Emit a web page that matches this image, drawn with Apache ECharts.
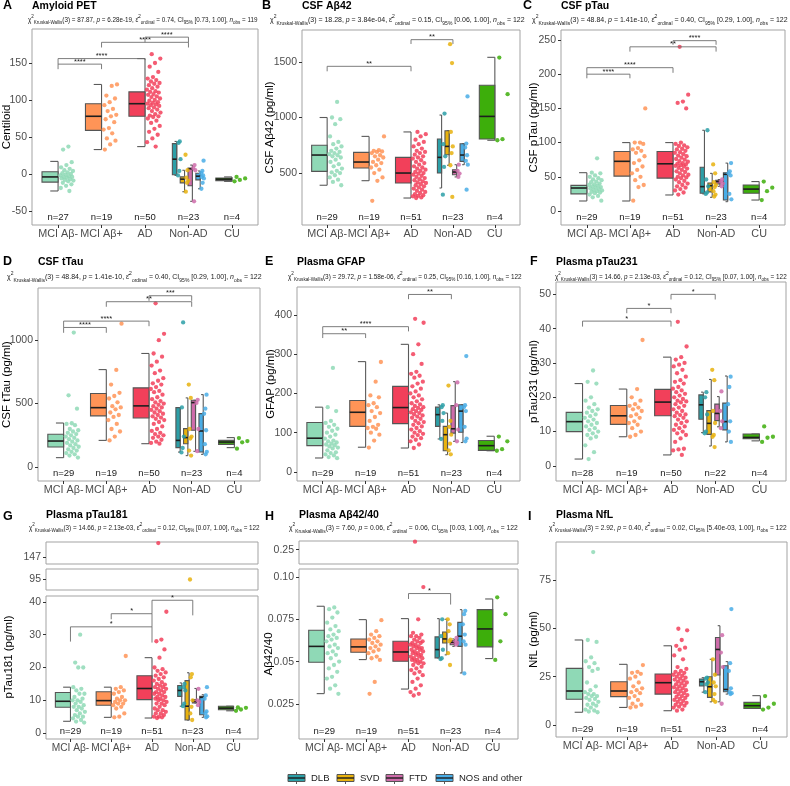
<!DOCTYPE html>
<html><head><meta charset="utf-8">
<script src="https://cdn.jsdelivr.net/npm/echarts@6.0.0/dist/echarts.min.js"></script>
<style>html,body{margin:0;padding:0;background:#fff}#chart{width:790px;height:786px}</style>
</head><body><div id="chart"></div>
<script>
// ---------------- DATA ----------------
const categories = ['MCI Aβ-', 'MCI Aβ+', 'AD', 'Non-AD', 'CU'];
const subtypes = ['DLB', 'SVD', 'FTD', 'NOS and other'];
// group order in every array: MCI Aβ-, MCI Aβ+, AD, DLB, SVD, FTD, NOS and other, CU
const titles = ['Amyloid PET', 'CSF Aβ42', 'CSF pTau', 'CSF tTau', 'Plasma GFAP', 'Plasma pTau231', 'Plasma pTau181', 'Plasma Aβ42/40', 'Plasma NfL'];
const yTitles = ['Centiloid', 'CSF Aβ42 (pg/ml)', 'CSF pTau (pg/ml)', 'CSF tTau (pg/ml)', 'GFAP (pg/ml)', 'pTau231 (pg/ml)', 'pTau181 (pg/ml)', 'Aβ42/40', 'NfL (pg/ml)'];
const letters = ['A', 'B', 'C', 'D', 'E', 'F', 'G', 'H', 'I'];
const statChi = ['87.87', '18.28', '48.84', '48.84', '29.72', '14.66', '14.66', '7.60', '2.92'];
const statP = ['6.28e-19', '3.84e-04', '1.41e-10', '1.41e-10', '1.58e-06', '2.13e-03', '2.13e-03', '0.06', '0.40'];
const statEps = ['0.74', '0.15', '0.40', '0.40', '0.25', '0.12', '0.12', '0.06', '0.02'];
const statCI = ['[0.73, 1.00]', '[0.06, 1.00]', '[0.29, 1.00]', '[0.29, 1.00]', '[0.16, 1.00]', '[0.07, 1.00]', '[0.07, 1.00]', '[0.03, 1.00]', '[5.40e-03, 1.00]'];
const statNobs = [119, 122, 122, 122, 122, 122, 122, 122, 122];

// A Amyloid PET
const petPoints = [
  [37,33,16,12,9,7,5,4,2,1,0,-1,-2,-3,-4,-4,-5,-6,-7,-8,-9,-10,-12,-14,-16,-19,-23],
  [121,119,106,102,97,93,88,85,80,78,74,70,62,60,55,48,45,40,33],
  [162,156,150,145,138,131,129,127,125,123,122,120,118,116,114,112,111,110,108,107,105,104,102,100,99,97,96,95,94,93,92,90,89,87,85,83,81,79,78,77,75,72,69,65,61,57,53,48,43,37],
  [44,42,20,4,-2],
  [26,5,-5,-9,-12,-24],
  [12,8,5,-37],
  [18,4,1,-2,-4,-6,-12,-20],
  [-4,-6,-8,-10]
];
const petBoxes = [[-23,-11,-4,3,17],[33,59,78,95,121],[37,78,95,111,156],[-2,-1,20,41,44],[-24,-12,-7,-4,5],[-37,-16,7,8,12],[-20,-8,-3,1,4],[-10,-9,-7,-5.5,-4]];
const petN = [27,19,50,23,4];
const petTicks = [-50,0,50,100,150];
const petBrackets = [[1,2,148.5,141.7,141.7],[1,3,156,148.5,154],[2,4,178,171,171],[3,4,185,178,178]];
const petStars = ['****','****','****','****'];

// B CSF Ab42
const ab42Points = [
  [1140,1000,985,940,830,780,760,740,720,700,690,680,670,660,650,640,620,600,580,560,540,520,505,500,480,460,440,420,390],
  [830,705,700,695,690,680,660,650,640,620,600,590,570,550,530,500,460,430,250],
  [870,850,830,800,780,760,740,720,700,690,680,665,650,640,630,615,600,590,575,560,550,540,530,520,510,500,495,485,475,465,455,445,435,425,415,410,400,390,380,370,360,350,340,330,320,310,300,295,290,280,275],
  [1035,760,650,555,305],
  [1660,1490,870,740,680,570,285],
  [575,520,495,465],
  [1190,765,730,660,610,575,350],
  [1540,1210,805,795]
];
const ab42Boxes = [[390,515,662,750,1000],[431,545,599,686,830],[275,410,500,641,870],[365,500,641,806,1022],[570,665,740,881,881],[465,485,509,530,575],[575,605,662,764,765],[795,806,1010,1290,1542]];
const ab42N = [29,19,51,23,4];
const ab42Ticks = [500,1000,1500];
const ab42Brackets = [[1,3,1461,1416,1416],[3,4,1701,1662,1662]];
const ab42Stars = ['**','**'];

// C CSF pTau
const ptauPoints = [
  [77,56,55,52,50,48,46,45,43,42,40,39,38,37,36,35,34,33,32,31,30,29,28,27,26,24,22,20,15],
  [150,100,100,98,92,90,88,85,80,74,70,65,60,55,50,45,38,35,15],
  [240,170,160,158,150,100,98,96,95,93,91,90,88,86,85,83,81,80,78,76,75,73,72,70,69,68,67,66,65,63,62,60,58,57,55,53,52,50,49,48,46,44,42,40,38,36,34,32,30,27,24],
  [118,46,36,27,25],
  [68,55,42,38,35,29,24,21],
  [46,43,40,36],
  [70,58,55,52,25,17],
  [43,34,29,16]
];
const ptauBoxes = [[14.6,25,33.6,37.5,56],[14.6,51,72.6,87,100],[23.4,48,69,87,100],[25,26,35.6,64,118],[20,28,37,41,55],[36,39.5,43,45,46],[13.6,16,53.6,56,70],[16,26,32,38,43]];
const ptauN = [29,19,51,23,4];
const ptauTicks = [0,50,100,150,200,250];
const ptauBrackets = [[1,2,200,194,194],[1,3,209.5,200,202],[2,4,240,233,233],[3,4,249,243,243]];
const ptauStars = ['****','****','**','****'];

// D CSF tTau
const ttauPoints = [
  [1060,565,460,345,340,330,300,290,280,270,260,250,240,230,220,210,200,190,180,170,160,150,140,130,120,110,100,90,75],
  [1130,765,650,585,560,540,510,480,470,455,430,410,395,370,340,300,280,240,210],
  [1290,1050,1000,895,870,830,800,760,740,700,680,660,650,630,615,600,590,570,550,535,520,510,500,490,480,470,460,450,440,430,420,410,400,390,380,370,355,340,320,300,285,270,260,250,240,230,215,200,190,184],
  [1140,470,240,150,115],
  [650,545,300,240,225,130,90],
  [530,505,300,125],
  [570,460,420,290,180,120,100],
  [228,205,195,145]
];
const ttauBoxes = [[74,158,205,258,347],[210,403,468,579,768],[184,387,482,624,895],[118,153,210,468,468],[90,184,232,303,545],[124,290,508,526,526],[100,118,284,421,571],[153,179,197,210,232]];
const ttauN = [29,19,50,23,4];
const ttauTicks = [0,500,1000];
const ttauBrackets = [[1,2,1100,1058,1058],[1,3,1150,1100,1110],[2,4,1303,1263,1263],[3,4,1350,1310,1310]];
const ttauStars = ['****','****','**','***'];

// E Plasma GFAP
const gfapPoints = [
  [265,165,155,130,125,120,115,110,105,100,95,90,85,80,78,75,72,70,68,65,62,60,55,50,48,45,42,38,35],
  [280,230,195,190,175,170,165,155,150,140,130,120,115,112,110,100,95,80,62],
  [390,380,325,300,275,255,250,245,240,230,225,218,212,205,200,195,190,185,180,175,172,168,165,163,160,158,155,152,150,147,144,141,138,135,130,127,124,120,116,112,108,104,100,97,94,90,86,82,78,70,61],
  [170,165,150,130,84],
  [220,130,115,95,72,55,45],
  [228,170,108,78],
  [295,170,165,155,115,85,78],
  [90,78,58,54]
];
const gfapBoxes = [[35.6,67,86,126,165],[63,116,152,182,281],[61,123,164,218,325],[84,116,146,165,171],[44,54,95,116,150],[78,99,110,169,230],[75,101,155,171,171],[54,55,67,80,91]];
const gfapN = [29,19,51,23,4];
const gfapTicks = [0,100,200,300,400];
const gfapBrackets = [[1,2,352,341,341],[1,3,370,352,358],[3,4,452,440,440]];
const gfapStars = ['**','****','**'];

// F Plasma pTau231
const p231Points = [
  [27.8,24.5,24,20,19,18,17,16.5,16,15.5,15,14.5,14,13.5,13,12.5,12,11.5,11,10.5,10,9.5,9,8.5,8,6,4,2],
  [36.7,22.4,20,19,18,17.5,17,16.5,16,15,14.5,14,13,12.5,12,11,10,9,8.5],
  [42,34.8,31.7,31,30,29.5,29,28,27,26,25,24.5,24,23,22.5,22,21.5,21,20.5,20,19.5,19,18.8,18.5,18,17.5,17,16.5,16,15.5,15,14.8,14.5,14,13.5,13,12.5,12,11.5,11,10.5,10,9.5,9,8,7,5,4.8,4.5,3.2],
  [21.5,20,15,10,9.5],
  [28,25,16,12.5,9,8.5,5.5],
  [21.7,16,13,11],
  [26,23,18,13,10,7],
  [11.5,8.5,8.2,7]
];
const p231Boxes = [[2,10,12.9,15.6,24],[8.5,12.1,14.6,17.6,22.4],[3.2,14.6,18.6,22.3,31.7],[9.7,13.6,17.8,20.7,21.5],[5.8,9.2,12.4,16.1,25.2],[11.4,13.2,15.3,18,20.2],[7,10.5,12.9,18.3,26.2],[7.3,7.9,8.3,9.3,9.3]];
const p231N = [28,19,50,22,4];
const p231Ticks = [0,10,20,30,40,50];
const p231Brackets = [[1,3,42.2,40.6,40.6],[2,3,45.9,44.5,44.5],[3,4,50,48.5,48.5]];
const p231Stars = ['*','*','*'];

// G Plasma pTau181
const p181Points = [
  [30,21.5,20,20,14,13.5,13,12,12,11,10.5,10,10,9.5,9,8.5,8,8,7.5,7,6.5,6,5.5,5,5,4.5,4,3.5,3.2],
  [23.5,14,13.5,13,12.5,12,11,10.5,10,10,9.5,9,9,8.5,8,7.5,6,5,4.8],
  [151,37,28.5,28,25.5,23,20,19.5,19,18.5,18,17.5,17,16.5,16,15.5,15,14.8,14.5,14,14,13.5,13.5,13,12.5,12.5,12,12,11.5,11,11,10.5,10.5,10,10,9.5,9,9,8.5,8,7.5,7,7,6.5,6,6,5.5,5,5,4.8,4.6],
  [15,14,13,9,8.2],
  [95,18,17,10,8,6,4],
  [13.5,10,9.5,8.5],
  [14,11.5,10.5,6.6,6,5.1,4.8],
  [7.8,7.7,7.2,6.8]
];
const p181Boxes = [[3.6,7.9,9.7,12.4,14],[4.8,8.5,9.9,12.6,14],[4.6,10.2,13.6,17.5,23],[8.2,11.2,13,14.5,15.3],[4,4,8.2,16,18.4],[9.2,9.2,9.7,10.2,13.6],[4.8,5.6,10.9,11.2,11.7],[6.8,7.1,7.6,8.2,8.2]];
const p181N = [29,19,51,23,4];
const p181Ticks = [0,10,20,30,40];
const p181BreakTicks = [[147],[95]];
const p181Brackets = [[1,3,32.4,27.9,27.6],[2,3,36.4,34.7,32.4],[3,4,40.5,36.4,35.9]];
const p181Stars = ['*','*','*'];

// H Plasma Ab42/40
const ratioPoints = [
  [0.082,0.081,0.079,0.076,0.073,0.071,0.069,0.068,0.066,0.065,0.064,0.063,0.062,0.060,0.059,0.058,0.056,0.055,0.054,0.052,0.050,0.048,0.046,0.044,0.041,0.040,0.036,0.034,0.031],
  [0.0745,0.068,0.066,0.065,0.064,0.063,0.062,0.061,0.060,0.059,0.058,0.057,0.056,0.055,0.053,0.052,0.051,0.038,0.031],
  [0.2555,0.094,0.075,0.067,0.066,0.065,0.065,0.064,0.063,0.062,0.062,0.061,0.061,0.060,0.060,0.059,0.059,0.058,0.058,0.057,0.057,0.056,0.056,0.055,0.055,0.054,0.054,0.053,0.053,0.052,0.052,0.051,0.051,0.050,0.050,0.049,0.049,0.048,0.047,0.046,0.045,0.044,0.043,0.042,0.040,0.038,0.036,0.034,0.032,0.031,0.030],
  [0.075,0.065,0.057,0.052,0.0515],
  [0.075,0.072,0.068,0.063,0.062,0.055,0.048],
  [0.064,0.062,0.061,0.060],
  [0.080,0.078,0.072,0.066,0.062,0.060,0.043],
  [0.088,0.078,0.062,0.051]
];
const ratioBoxes = [[0.0311,0.0496,0.059,0.0685,0.0827],[0.0512,0.0555,0.0587,0.0634,0.0748],[0.0338,0.0502,0.0557,0.062,0.0754],[0.0522,0.0522,0.0571,0.0646,0.0754],[0.054,0.061,0.0634,0.0675,0.075],[0.059,0.06,0.0614,0.0624,0.0634],[0.0433,0.059,0.065,0.0732,0.0807],[0.0518,0.0587,0.0693,0.0807,0.087]];
const ratioN = [29,19,51,23,4];
const ratioTicks = [0.025,0.05,0.075,0.10];
const ratioTickLabels = ['0.025','0.05','0.075','0.10'];
const ratioBreakTicks = [[0.25]];
const ratioBrackets = [[3,4,0.0902,0.087,0.0837]];
const ratioStars = ['*'];

// I Plasma NfL
const nflPoints = [
  [89.5,44,43,35,33,32,30,29,28,22,20,18,17,16,16,15,15,14,13.5,13,12,11,10.5,10,9,8,7.5,7,6.6],
  [31,27.5,27,26.5,25,24,22,20,19,18,17,16.5,15,14,13,11,10.5,9.5,9],
  [49.8,49,44,41,40,39,36,34,30,29,28,27.5,27,26.5,26,25.5,25,24.5,24,23.5,23,22.5,22,21.5,21,20.5,20,19.5,19,18.5,18,17.5,17,16.5,16,15.5,15,14.5,14,13.5,13,12.5,12,11.5,11,10.5,10,9.5,9,8,7.4],
  [24.5,24,22,21,17],
  [34,26,22,20,16,13,12],
  [46.5,37.5,30,11],
  [60,32,28,19,17,16.5,16],
  [15,11,9,8]
];
const nflBoxes = [[6.6,13.3,17.6,29.3,44],[9.1,14.7,17.6,22.4,31.4],[7.4,16,21.9,26.4,41],[17,20.2,22.4,23.8,24.5],[12,14.3,19.8,25,34],[12,25.9,39.1,45.3,51.4],[16,17.2,18.4,30.7,32.8],[8.6,8.6,10,11.7,15.2]];
const nflN = [29,19,51,23,4];
const nflTicks = [0,25,50,75];
const nflBrackets = [];
const nflStars = [];

// ---------------- LAYOUT / STYLE ----------------
const FONT = '"Liberation Sans", Arial, Helvetica, sans-serif';
const COLORS = ['#8FD9B6', '#FF9457', '#F2405A', '#2C9FA7', '#E8B20E', '#CE6CAA', '#49ADE6', '#3DAE0B'];
const SUB_OFF = [-0.27, -0.09, 0.09, 0.27];
const MAIN_BOX_W = 0.37, SUB_BOX_W = 0.1, MAIN_CAP = 0.18, SUB_CAP = 0.05;
const MAIN_JIT = [0.04, 0.32], SUB_JIT = [0.015, 0.075];
const PHI = 0.6180339887;
const ROW_TITLE_Y = [6, 262, 515];
const ROW_SUB_Y = [20, 277, 528];

const panels = [
  {pts: petPoints, box: petBoxes, n: petN, ticks: petTicks, br: petBrackets, st: petStars,
   grid: {left: 32, top: 29, width: 226, height: 196}, y: [-69, 196], lx: 3, row: 0, ylx: 7, subL: 28, subR: 258},
  {pts: ab42Points, box: ab42Boxes, n: ab42N, ticks: ab42Ticks, br: ab42Brackets, st: ab42Stars,
   grid: {left: 302, top: 30, width: 218, height: 195}, y: [32, 1788], lx: 262, row: 0, ylx: 270, subL: 270, subR: 525},
  {pts: ptauPoints, box: ptauBoxes, n: ptauN, ticks: ptauTicks, br: ptauBrackets, st: ptauStars,
   grid: {left: 561, top: 30, width: 224, height: 195}, y: [-20.5, 264.6], lx: 523, row: 0, ylx: 534, subL: 532, subR: 788},
  {pts: ttauPoints, box: ttauBoxes, n: ttauN, ticks: ttauTicks, br: ttauBrackets, st: ttauStars,
   grid: {left: 38, top: 288, width: 222, height: 193}, y: [-110, 1411], lx: 3, row: 1, ylx: 7, subL: 7, subR: 262},
  {pts: gfapPoints, box: gfapBoxes, n: gfapN, ticks: gfapTicks, br: gfapBrackets, st: gfapStars,
   grid: {left: 297, top: 287, width: 223, height: 194}, y: [-23, 471], lx: 265, row: 1, ylx: 271, subL: 288, subR: 522},
  {pts: p231Points, box: p231Boxes, n: p231N, ticks: p231Ticks, br: p231Brackets, st: p231Stars,
   grid: {left: 556, top: 282, width: 230, height: 199}, y: [-4.4, 53.6], lx: 530, row: 1, ylx: 534, subL: 555, subR: 787},
  {pts: p181Points, box: p181Boxes, n: p181N, ticks: p181Ticks, br: p181Brackets, st: p181Stars, xFont: 10.2,
   grid: {left: 46, top: 596, width: 212, height: 143}, y: [-1.8, 41.8], lx: 3, row: 2, ylx: 9, yly: 657, subL: 29, subR: 260,
   extra: [{top: 542, height: 22, y: [145, 151.3], ticks: p181BreakTicks[0]}, {top: 569, height: 21, y: [90, 100], ticks: p181BreakTicks[1]}]},
  {pts: ratioPoints, box: ratioBoxes, n: ratioN, ticks: ratioTicks, tickLabels: ratioTickLabels, br: ratioBrackets, st: ratioStars, xFont: 10.5,
   grid: {left: 299, top: 569, width: 219, height: 170}, y: [0.0043, 0.1047], lx: 265, row: 2, ylx: 269, subL: 289, subR: 518,
   extra: [{top: 541, height: 23, y: [0.24, 0.256], ticks: ratioBreakTicks[0]}]},
  {pts: nflPoints, box: nflBoxes, n: nflN, ticks: nflTicks, br: nflBrackets, st: nflStars,
   grid: {left: 556, top: 542, width: 231, height: 195}, y: [-6.2, 94.7], lx: 528, row: 2, ylx: 534, subL: 549, subR: 787}
];

function frac(v) { return v - Math.floor(v); }
function isSub(g) { return g >= 3 && g < 7; }
function groupX(g) { if (g < 3) return g + 1; if (g < 7) return 4 + SUB_OFF[g - 3]; return 5; }

const grids = [], xAxes = [], yAxes = [], series = [], graphics = [];

function addGrid(rect, yr, ticks, tickLabels, showX, xFont) {
  const gi = grids.length;
  grids.push({left: rect.left, top: rect.top, width: rect.width, height: rect.height, show: true,
    borderColor: '#A3A3A3', borderWidth: 1, backgroundColor: 'rgba(0,0,0,0)', containLabel: false});
  xAxes.push({type: 'value', gridIndex: gi, min: 0.4, max: 5.6, position: 'bottom', splitLine: {show: false},
    axisLine: {show: false, onZero: false},
    axisTick: {show: showX, customValues: [1, 2, 3, 4, 5], length: 3, lineStyle: {color: '#333', width: 1}},
    axisLabel: {show: showX, customValues: [1, 2, 3, 4, 5], hideOverlap: false, showMinLabel: true, showMaxLabel: true,
      formatter: v => categories[Math.round(v) - 1] || '',
      fontSize: xFont || 10.8, color: '#4D4D4D', margin: 4, fontFamily: FONT}});
  yAxes.push({type: 'value', gridIndex: gi, min: yr[0], max: yr[1], position: 'left', splitLine: {show: false},
    axisLine: {show: false, onZero: false},
    axisTick: {show: true, customValues: ticks, length: 3, lineStyle: {color: '#333', width: 1}},
    axisLabel: {customValues: ticks, hideOverlap: false, fontSize: 10.5, color: '#4D4D4D', margin: 5, fontFamily: FONT,
      formatter: v => {
        const i = ticks.findIndex(t => Math.abs(t - v) < 1e-9);
        if (i < 0) return '';
        return tickLabels ? tickLabels[i] : String(ticks[i]);
      }}});
  return gi;
}

function addPoints(gi, pts, yr) {
  pts.forEach((arr, g) => {
    const j = isSub(g) ? SUB_JIT : MAIN_JIT;
    const data = [];
    arr.forEach((v, i) => {
      if (v < yr[0] || v > yr[1]) return;
      data.push([groupX(g) + j[0] + j[1] * frac((i + 1) * PHI + g * 0.37), v]);
    });
    series.push({type: 'scatter', xAxisIndex: gi, yAxisIndex: gi, data: data, symbolSize: 4.3,
      itemStyle: {color: COLORS[g], opacity: 0.85}, silent: true, z: 3});
  });
}

function renderBox(params, api) {
  const g = api.value(6);
  const sub = isSub(g);
  const x = api.value(0);
  const bw = sub ? SUB_BOX_W : MAIN_BOX_W, cw = sub ? SUB_CAP : MAIN_CAP;
  const pMin = api.coord([x, api.value(1)]);
  const pQ1 = api.coord([x - bw, api.value(2)]);
  const pMd = api.coord([x, api.value(3)]);
  const pQ3 = api.coord([x, api.value(4)]);
  const pMax = api.coord([x, api.value(5)]);
  const xr = pMin[0], xl = pQ1[0];
  const xc = api.coord([x - cw, api.value(1)])[0];
  const wStyle = {stroke: '#5A5A5A', lineWidth: 1.1};
  return {type: 'group', children: [
    {type: 'line', shape: {x1: xr, y1: pMax[1], x2: xr, y2: pMin[1]}, style: wStyle},
    {type: 'line', shape: {x1: xc, y1: pMax[1], x2: xr, y2: pMax[1]}, style: wStyle},
    {type: 'line', shape: {x1: xc, y1: pMin[1], x2: xr, y2: pMin[1]}, style: wStyle},
    {type: 'rect', shape: {x: xl, y: pQ3[1], width: xr - xl, height: Math.max(pQ1[1] - pQ3[1], 0.5)},
      style: {fill: COLORS[g], stroke: '#555', lineWidth: 1.1}},
    {type: 'line', shape: {x1: xl, y1: pMd[1], x2: xr, y2: pMd[1]}, style: {stroke: '#1E1E1E', lineWidth: 1.6}}
  ]};
}

panels.forEach((P, pi) => {
  const gi = addGrid(P.grid, P.y, P.ticks, P.tickLabels, true, P.xFont);
  // boxes
  series.push({type: 'custom', xAxisIndex: gi, yAxisIndex: gi, silent: true, z: 2,
    data: P.box.map((b, g) => [groupX(g), b[0], b[1], b[2], b[3], b[4], g]),
    encode: {x: 0, y: [1, 2, 3, 4, 5]}, renderItem: renderBox});
  addPoints(gi, P.pts, P.y);
  // significance brackets
  if (P.br.length) {
    const stars = P.st;
    series.push({type: 'custom', xAxisIndex: gi, yAxisIndex: gi, silent: true, z: 4,
      data: P.br.map(b => b.slice()), encode: {x: [0, 1], y: [2, 3, 4]},
      renderItem: (params, api) => {
        const x1 = api.value(0), x2 = api.value(1), y = api.value(2);
        const a = api.coord([x1, api.value(3)]), b = api.coord([x1, y]), c = api.coord([x2, y]), d = api.coord([x2, api.value(4)]);
        return {type: 'group', children: [
          {type: 'polyline', shape: {points: [a, b, c, d]}, style: {stroke: '#6E6E6E', lineWidth: 0.9, fill: null}},
          {type: 'text', x: (b[0] + c[0]) / 2, y: b[1] + 1.5, style: {text: stars[params.dataIndex], fontSize: 7.5,
            fontFamily: FONT, fill: '#222', align: 'center', verticalAlign: 'bottom', textAlign: 'center', textVerticalAlign: 'bottom'}}
        ]};
      }});
  }
  // n labels
  const nArr = P.n;
  series.push({type: 'custom', xAxisIndex: gi, yAxisIndex: gi, silent: true, z: 4,
    data: nArr.map((n, i) => [i + 1, P.y[0]]), encode: {x: 0, y: 1},
    renderItem: (params, api) => {
      const p = api.coord([api.value(0), api.value(1)]);
      const cs = params.coordSys;
      return {type: 'text', x: p[0], y: cs.y + cs.height - 8, style: {text: 'n=' + nArr[params.dataIndex], fontSize: 9.5,
        fontFamily: FONT, fill: '#1A1A1A', align: 'center', verticalAlign: 'middle', textAlign: 'center', textVerticalAlign: 'middle'}};
    }});
  // broken-axis strips
  (P.extra || []).forEach(ex => {
    const gj = addGrid({left: P.grid.left, top: ex.top, width: P.grid.width, height: ex.height}, ex.y, ex.ticks, null, false);
    addPoints(gj, P.pts, ex.y);
  });

  // texts
  const ty = ROW_TITLE_Y[P.row];
  graphics.push({type: 'text', x: P.lx, y: ty + (P.row === 2 ? 2 : 0), style: {text: letters[pi], fontSize: 12.5, fontWeight: 'bold',
    fontFamily: FONT, fill: '#000', align: 'left', verticalAlign: 'middle', textAlign: 'left', textVerticalAlign: 'middle'}});
  graphics.push({type: 'text', x: P.grid.left, y: ty, style: {text: titles[pi], fontSize: 10.5, fontWeight: 'bold',
    fontFamily: FONT, fill: '#000', align: 'left', verticalAlign: 'middle', textAlign: 'left', textVerticalAlign: 'middle'}});
  // subtitle
  const segs = [['m', 'χ'], ['sup', '2'], ['sub', 'Kruskal-Wallis'], ['m', '(3) = ' + statChi[pi] + ', '], ['it', 'p'],
    ['m', ' = ' + statP[pi] + ', '], ['m', 'ε\u0302'], ['sup', '2'], ['sub', 'ordinal'], ['m', ' = ' + statEps[pi] + ', CI'],
    ['sub', '95%'], ['m', ' ' + statCI[pi] + ', '], ['it', 'n'], ['sub', 'obs'], ['m', ' = ' + statNobs[pi]]];
  const cv = document.createElement('canvas').getContext('2d');
  let w10 = 0;
  segs.forEach(s => {
    const fs = (s[0] === 'sup' || s[0] === 'sub') ? 7.2 : 10;
    cv.font = (s[0] === 'it' ? 'italic ' : '') + fs + 'px ' + FONT;
    w10 += cv.measureText(s[1]).width;
  });
  const fsMain = 10 * (P.subR - P.subL) / w10;
  const fsSmall = fsMain * 0.72;
  const text = segs.map(s => '{' + s[0] + '|' + s[1] + '}').join('');
  graphics.push({type: 'text', x: P.subL, y: ROW_SUB_Y[P.row], style: {text: text, align: 'left', verticalAlign: 'middle',
    textAlign: 'left', textVerticalAlign: 'middle',
    rich: {
      m: {fontSize: fsMain, fontFamily: FONT, fill: '#1A1A1A', lineHeight: fsMain * 1.7},
      it: {fontSize: fsMain, fontFamily: FONT, fontStyle: 'italic', fill: '#1A1A1A', lineHeight: fsMain * 1.7},
      sup: {fontSize: fsSmall, fontFamily: FONT, fill: '#1A1A1A', verticalAlign: 'top', lineHeight: fsSmall},
      sub: {fontSize: fsSmall, fontFamily: FONT, fill: '#1A1A1A', verticalAlign: 'bottom', lineHeight: fsSmall}
    }}});
  // y title
  const yc = P.yly || (P.grid.top + P.grid.height / 2);
  graphics.push({type: 'text', x: P.ylx, y: yc, rotation: Math.PI / 2, style: {text: yTitles[pi], fontSize: 11.5,
    fontFamily: FONT, fill: '#000', align: 'center', verticalAlign: 'middle', textAlign: 'center', textVerticalAlign: 'middle'}});
});

// legend
const LEG_ICON_X = [288, 337, 386, 436];
const LEG_Y = 778;
subtypes.forEach((name, k) => {
  const x0 = LEG_ICON_X[k];
  const c = COLORS[3 + k];
  graphics.push({type: 'line', shape: {x1: x0 + 8.5, y1: LEG_Y - 6, x2: x0 + 8.5, y2: LEG_Y + 6}, style: {stroke: '#5A5A5A', lineWidth: 1}});
  graphics.push({type: 'rect', shape: {x: x0, y: LEG_Y - 3.5, width: 17, height: 7}, style: {fill: c, stroke: '#555', lineWidth: 1}});
  graphics.push({type: 'line', shape: {x1: x0, y1: LEG_Y, x2: x0 + 17, y2: LEG_Y}, style: {stroke: '#1E1E1E', lineWidth: 1.4}});
  graphics.push({type: 'text', x: x0 + 23, y: LEG_Y, style: {text: name, fontSize: 9.5, fontFamily: FONT, fill: '#1A1A1A',
    align: 'left', verticalAlign: 'middle', textAlign: 'left', textVerticalAlign: 'middle'}});
});

const chart = echarts.init(document.getElementById('chart'), null, {renderer: 'canvas'});
chart.setOption({
  animation: false,
  backgroundColor: '#ffffff',
  grid: grids, xAxis: xAxes, yAxis: yAxes, series: series,
  graphic: {elements: graphics}
});
</script>
</body></html>
